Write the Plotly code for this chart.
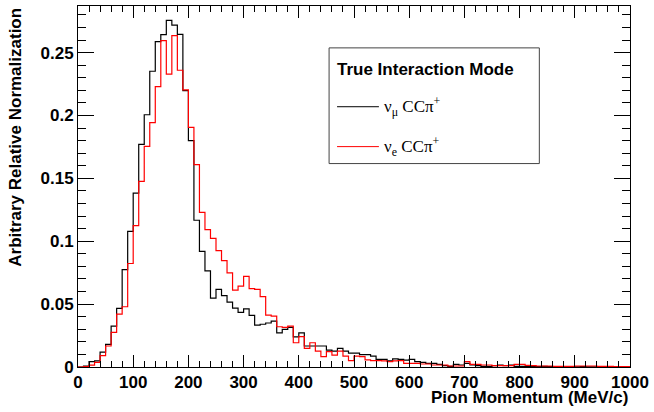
import plotly.graph_objects as go

# ---------------- data (10 MeV/c bins, 0-1000 MeV/c) ----------------
bin_edges = list(range(0, 1001, 10))

numu_ccpi = [
    0.0, 0.0008, 0.0042, 0.0048, 0.0119, 0.0180, 0.0325, 0.0466, 0.0775, 0.1079,
    0.1383, 0.1770, 0.2006, 0.2352, 0.2587, 0.2643, 0.2757, 0.2719, 0.2645, 0.2198,
    0.1800, 0.1167, 0.0920, 0.0765, 0.0548, 0.0617, 0.0568, 0.0516, 0.0468, 0.0435,
    0.0462, 0.0410, 0.0333, 0.0340, 0.0350, 0.0365, 0.0272, 0.0300, 0.0315, 0.0240,
    0.0272, 0.0167, 0.0167, 0.0167, 0.0167, 0.0135, 0.0127, 0.0148, 0.0127, 0.0111,
    0.0111, 0.0098, 0.0098, 0.0087, 0.0060, 0.0061, 0.0048, 0.0064, 0.0061, 0.0055,
    0.0061, 0.0042, 0.0037, 0.0029, 0.0029, 0.0021, 0.0011, 0.0005, 0.0021, 0.0016,
    0.0029, 0.0016, 0.0011, 0.0005, 0.0005, 0.0011, 0.0016, 0.0011, 0.0016, 0.0005,
    0.0005, 0.0003, 0.0004, 0.0003, 0.0005, 0.0003, 0.0003, 0.0002, 0.0003, 0.0003,
    0.0002, 0.0003, 0.0002, 0.0002, 0.0002, 0.0003, 0.0002, 0.0002, 0.0002, 0.0002,
]

nue_ccpi = [
    0.0, 0.0004, 0.0015, 0.0037, 0.0090, 0.0167, 0.0275, 0.0420, 0.0479, 0.0823,
    0.1124, 0.1476, 0.1754, 0.1943, 0.2230, 0.2595, 0.2330, 0.2635, 0.2360, 0.2204,
    0.1905, 0.1609, 0.1230, 0.1092, 0.1023, 0.0925, 0.0846, 0.0749, 0.0611, 0.0643,
    0.0720, 0.0624, 0.0617, 0.0560, 0.0413, 0.0405, 0.0320, 0.0315, 0.0325, 0.0193,
    0.0241, 0.0148, 0.0193, 0.0127, 0.0082, 0.0122, 0.0095, 0.0127, 0.0087, 0.0050,
    0.0087, 0.0082, 0.0056, 0.0050, 0.0050, 0.0048, 0.0042, 0.0048, 0.0050, 0.0029,
    0.0029, 0.0029, 0.0024, 0.0024, 0.0016, 0.0016, 0.0016, 0.0008, 0.0008, 0.0008,
    0.0042, 0.0021, 0.0021, 0.0016, 0.0016, 0.0011, 0.0011, 0.0011, 0.0011, 0.0021,
    0.0021, 0.0013, 0.0011, 0.0008, 0.0008, 0.0008, 0.0005, 0.0005, 0.0005, 0.0005,
    0.0008, 0.0008, 0.0008, 0.0008, 0.0005, 0.0005, 0.0005, 0.0004, 0.0004, 0.0004,
]

x_tick_vals = [0, 100, 200, 300, 400, 500, 600, 700, 800, 900, 1000]
y_tick_vals = [0, 0.05, 0.1, 0.15, 0.2, 0.25]

series_names = ["ν<sub>μ</sub> CCπ<sup>+</sup>", "ν<sub>e</sub> CCπ<sup>+</sup>"]
series_colors = ["#000000", "#ff0000"]
legend_title = "True Interaction Mode"
x_title = "Pion Momentum (MeV/c)"
y_title = "Arbitrary Relative Normalization"

# ---------------- layout geometry (pixels) ----------------
W, H = 654, 412
L, R, T, B = 78, 22, 5, 45
PW, PH = W - L - R, H - T - B


def px(xp):
    return (xp - L) / PW


def py(yp):
    return (H - B - yp) / PH


fig = go.Figure()
for vals, name, col in zip([numu_ccpi, nue_ccpi], series_names, series_colors):
    fig.add_trace(go.Scatter(
        x=bin_edges, y=vals + [vals[-1]], mode="lines", line_shape="hv",
        line=dict(color=col, width=1.2), name=name, showlegend=False,
        hoverinfo="skip",
    ))

tickfont = dict(family="Liberation Sans", size=17, color="black", weight="bold")

fig.update_layout(
    width=W, height=H, margin=dict(l=L, r=R, t=T, b=B),
    paper_bgcolor="white", plot_bgcolor="white",
    xaxis=dict(
        range=[0, 1000], tickvals=x_tick_vals, ticks="inside", ticklen=12,
        tickcolor="black", showline=True, linecolor="black", linewidth=1,
        mirror="allticks", showgrid=False, zeroline=False, tickfont=tickfont,
        minor=dict(dtick=20, ticklen=6, ticks="inside", tickcolor="black", showgrid=False),
    ),
    yaxis=dict(
        range=[0, 0.2871], tickvals=y_tick_vals, ticks="inside", ticklen=16,
        tickcolor="black", showline=True, linecolor="black", linewidth=1,
        mirror="allticks", showgrid=False, zeroline=False, tickfont=tickfont,
        minor=dict(dtick=0.01, ticklen=8, ticks="inside", tickcolor="black", showgrid=False),
    ),
)

annots = [
    dict(text=f"<b>{y_title}</b>", xref="paper", yref="paper", x=px(15), y=1.0,
         xanchor="center", yanchor="top", textangle=-90, showarrow=False,
         font=dict(family="Liberation Sans", size=17, color="black")),
    dict(text=f"<b>{x_title}</b>", xref="paper", yref="paper", x=1.0, y=py(398),
         xanchor="right", yanchor="middle", showarrow=False,
         font=dict(family="Liberation Sans", size=17, color="black")),
    dict(text=f"<b>{legend_title}</b>", xref="paper", yref="paper", x=px(336), y=py(69),
         xanchor="left", yanchor="middle", showarrow=False,
         font=dict(family="Liberation Sans", size=17, color="black")),
]
entry_y = [106, 146]
for name, yy in zip(series_names, entry_y):
    annots.append(dict(text=name, xref="paper", yref="paper", x=px(383), y=py(yy),
                       xanchor="left", yanchor="middle", showarrow=False,
                       font=dict(family="Liberation Serif", size=17, color="black")))

shapes = [dict(type="rect", xref="paper", yref="paper", x0=px(330), x1=px(541),
               y0=py(163), y1=py(47), line=dict(color="#444444", width=1),
               fillcolor="white", layer="above")]
for col, yy in zip(series_colors, entry_y):
    shapes.append(dict(type="line", xref="paper", yref="paper", x0=px(338), x1=px(380),
                       y0=py(yy), y1=py(yy), line=dict(color=col, width=1), layer="above"))

fig.update_layout(annotations=annots, shapes=shapes)
fig.write_html("out.html")
